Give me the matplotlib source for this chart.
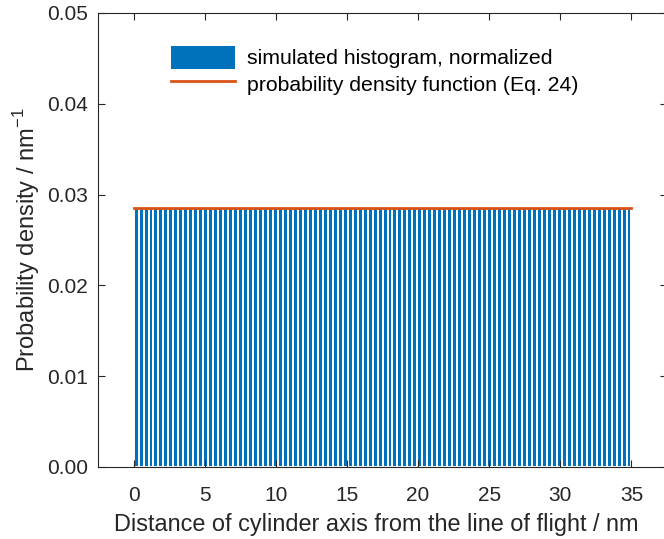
import numpy as np
import matplotlib.pyplot as plt
from matplotlib.patches import Patch

plt.rcParams['font.family'] = ['Liberation Sans', 'DejaVu Sans']

# histogram: 100 bins between 0 and 35 nm
bin_edges = np.linspace(0, 35, 101)
hist_vals = [
    0.0286, 0.0285, 0.0286, 0.0286, 0.0285, 0.0286, 0.0286, 0.0286, 0.0285, 0.0286,
    0.0286, 0.0286, 0.0285, 0.0286, 0.0286, 0.0285, 0.0286, 0.0286, 0.0286, 0.0285,
    0.0286, 0.0286, 0.0285, 0.0286, 0.0286, 0.0286, 0.0285, 0.0286, 0.0286, 0.0286,
    0.0286, 0.0285, 0.0286, 0.0286, 0.0286, 0.0285, 0.0286, 0.0286, 0.0285, 0.0286,
    0.0286, 0.0286, 0.0286, 0.0285, 0.0286, 0.0286, 0.0286, 0.0285, 0.0286, 0.0286,
    0.0285, 0.0286, 0.0286, 0.0286, 0.0286, 0.0285, 0.0286, 0.0286, 0.0286, 0.0285,
    0.0286, 0.0286, 0.0285, 0.0286, 0.0286, 0.0286, 0.0286, 0.0285, 0.0286, 0.0286,
    0.0285, 0.0286, 0.0286, 0.0286, 0.0285, 0.0286, 0.0286, 0.0286, 0.0285, 0.0286,
    0.0286, 0.0286, 0.0285, 0.0286, 0.0286, 0.0286, 0.0285, 0.0286, 0.0286, 0.0286,
    0.0286, 0.0285, 0.0286, 0.0286, 0.0286, 0.0285, 0.0286, 0.0286, 0.0286, 0.0285,
]
pdf_x = [0, 35]
pdf_y = [1/35, 1/35]

xticks = [0, 5, 10, 15, 20, 25, 30, 35]
yticks = [0.00, 0.01, 0.02, 0.03, 0.04, 0.05]

fig = plt.figure(figsize=(6.64, 5.39), dpi=100)
ax = fig.add_axes([0.1476, 0.1336, 0.857, 0.8423])

ax.bar(bin_edges[:-1], hist_vals, width=np.diff(bin_edges), align='edge',
       color='#0072BD', edgecolor='white', linewidth=1.4)
line, = ax.plot(pdf_x, pdf_y, color='#D95319', lw=2)

ax.set_xlim(-2.5, 37.5)
ax.set_ylim(0, 0.05)
ax.set_xticks(xticks)
ax.set_yticks(yticks)
ax.set_yticklabels(['%.2f' % v for v in yticks])
ax.tick_params(direction='in', top=True, right=True, length=5, width=0.8,
               labelsize=15, colors='#262626')
ax.tick_params(axis='x', pad=13.5)
ax.tick_params(axis='y', pad=7)
for s in ax.spines.values():
    s.set_color('#262626')
    s.set_linewidth(0.8)

ax.set_xlabel('Distance of cylinder axis from the line of flight / nm', fontsize=16.9,
              color='#262626', labelpad=6)
ax.xaxis.label.set_x(0.4895)
ax.set_ylabel('Probability density / nm$^{\\mathregular{-1}}$', fontsize=17,
              color='#262626', labelpad=4)

handle_bar = Patch(facecolor='#0072BD', edgecolor='none')
ax.legend([handle_bar, line],
          ['simulated histogram, normalized', 'probability density function (Eq. 24)'],
          loc='upper left', bbox_to_anchor=(0.094, 0.97), frameon=False,
          fontsize=15.3, handlelength=3.05, handleheight=1.3, handletextpad=0.55,
          labelspacing=0.15)

fig.savefig('out.png', dpi=100)
